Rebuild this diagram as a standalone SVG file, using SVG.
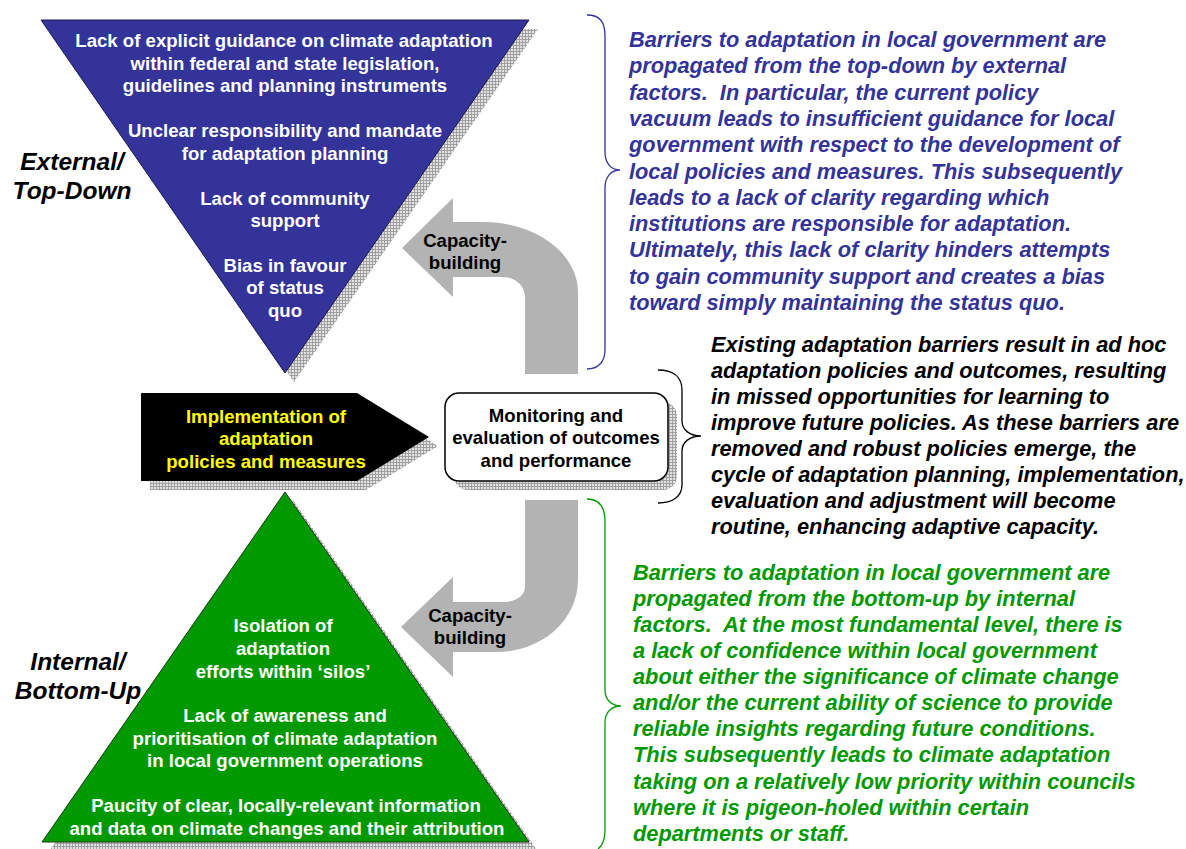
<svg xmlns="http://www.w3.org/2000/svg" width="1186" height="849" viewBox="0 0 1186 849">
<defs>
<pattern id="hatch" width="3" height="3" patternUnits="userSpaceOnUse"><rect width="3" height="3" fill="#e2e2e2"/><path d="M0,0.5H3M0.5,0V3" stroke="#9a9a9a" stroke-width="0.9"/></pattern>
<style>
.dt{font-family:"Liberation Sans",Arial,sans-serif;font-weight:bold;font-size:18.6px;text-anchor:middle}
.wt{fill:#fff}
.side{font-family:"Liberation Sans",Arial,sans-serif;font-weight:bold;font-style:italic;font-size:24.5px;text-anchor:middle;fill:#000}
.para{font-family:"Liberation Sans",Arial,sans-serif;font-weight:bold;font-style:italic;font-size:21.8px;white-space:pre}
.shadow{fill:url(#hatch)}
.arrow{fill:#b3b3b3}
.brace{fill:none;stroke-width:1.3}
</style>
</defs>
<rect width="1186" height="849" fill="#fff"/>

<g id="connectors">
<path class="arrow" d="M578,374 L578,292 A95,70 0 0 0 483,222 L453,222 L453,198 L402,248 L453,297 L453,277 L503,277 A22,20 0 0 1 525,297 L525,374 Z"/>
<path class="arrow" d="M525,500 L578,500 L578,580 A81,72 0 0 1 497,652 L453,652 L453,677 L401,627 L453,577 L453,602 L505,602 A20,15 0 0 0 525,587 Z"/>
<text class="dt" x="465" y="247" fill="#000">Capacity-</text>
<text class="dt" x="465" y="269" fill="#000">building</text>
<text class="dt" x="470" y="622" fill="#000">Capacity-</text>
<text class="dt" x="470" y="644" fill="#000">building</text>
<path class="brace" stroke="#333399" d="M587,15 C600,15 605,22 605,36 L605,152 C605,163 611,170 620,170 C611,170 605,177 605,188 L605,350 C605,362 598,369 587,369"/>
<path class="brace" stroke="#000" d="M658,370 C672,370 682,376 682,390 L682,421 C682,430 690,436 701,436 C690,436 682,442 682,451 L682,485 C682,497 672,503 658,503"/>
<path class="brace" stroke="#009900" d="M587,499 C600,499 605,508 605,522 L605,690 C605,700 612,706 621,706 C612,706 605,712 605,722 L605,830 C605,840 602,846 598,849"/>
</g>

<g id="external-triangle">
<polygon class="shadow" points="50,29 538,29 294,382"/>
<polygon points="41,20 529,20 285,373" fill="#333399" stroke="#1a1a4d" stroke-width="1"/>
<text class="dt wt" x="284" y="47">Lack of explicit guidance on climate adaptation</text>
<text class="dt wt" x="285" y="69.5">within federal and state legislation,</text>
<text class="dt wt" x="285" y="92">guidelines and planning instruments</text>
<text class="dt wt" x="285" y="137">Unclear responsibility and mandate</text>
<text class="dt wt" x="285" y="160">for adaptation planning</text>
<text class="dt wt" x="285" y="205">Lack of community</text>
<text class="dt wt" x="285" y="227">support</text>
<text class="dt wt" x="285" y="272">Bias in favour</text>
<text class="dt wt" x="285" y="294">of status</text>
<text class="dt wt" x="285" y="317">quo</text>
</g>

<g id="label-external">
<text class="side" x="72" y="170">External/</text>
<text class="side" x="72" y="199">Top-Down</text>
</g>

<g id="implementation">
<polygon class="shadow" points="150,402 366,402 438,446 366,490 150,490"/>
<polygon points="141,393 357,393 429,437 357,481 141,481" fill="#000"/>
<text class="dt" x="266" y="423" fill="#ffff00">Implementation of</text>
<text class="dt" x="266" y="445" fill="#ffff00">adaptation</text>
<text class="dt" x="266" y="468" fill="#ffff00">policies and measures</text>
</g>

<g id="monitoring">
<rect class="shadow" x="454" y="402" width="223" height="88" rx="14"/>
<rect x="445" y="393" width="223" height="88" rx="14" fill="#fff" stroke="#000" stroke-width="1.5"/>
<text class="dt" x="556" y="422" fill="#000">Monitoring and</text>
<text class="dt" x="556" y="444" fill="#000">evaluation of outcomes</text>
<text class="dt" x="556" y="467" fill="#000">and performance</text>
</g>

<g id="internal-triangle">
<polygon class="shadow" points="293,500 50,850 537,850"/>
<polygon points="285,492 42,842 529,842" fill="#009900" stroke="#1a3a1a" stroke-width="1"/>
<text class="dt wt" x="283" y="632">Isolation of</text>
<text class="dt wt" x="283" y="655">adaptation</text>
<text class="dt wt" x="283" y="677.5">efforts within ‘silos’</text>
<text class="dt wt" x="285" y="722">Lack of awareness and</text>
<text class="dt wt" x="285" y="745">prioritisation of climate adaptation</text>
<text class="dt wt" x="285" y="767">in local government operations</text>
<text class="dt wt" x="286" y="812">Paucity of clear, locally-relevant information</text>
<text class="dt wt" x="287" y="834.5">and data on climate changes and their attribution</text>
</g>

<g id="label-internal">
<text class="side" x="78" y="670">Internal/</text>
<text class="side" x="78" y="699">Bottom-Up</text>
</g>

<g id="text-external" class="para" fill="#333399">
<text x="629" y="47">Barriers to adaptation in local government are</text>
<text x="629" y="73.3">propagated from the top-down by external</text>
<text x="629" y="99.6" xml:space="preserve">factors.  In particular, the current policy</text>
<text x="629" y="125.9">vacuum leads to insufficient guidance for local</text>
<text x="629" y="152.2">government with respect to the development of</text>
<text x="629" y="178.5">local policies and measures. This subsequently</text>
<text x="629" y="204.8">leads to a lack of clarity regarding which</text>
<text x="629" y="231.1">institutions are responsible for adaptation.</text>
<text x="629" y="257.4">Ultimately, this lack of clarity hinders attempts</text>
<text x="629" y="283.7">to gain community support and creates a bias</text>
<text x="629" y="310">toward simply maintaining the status quo.</text>
</g>

<g id="text-cycle" class="para" fill="#000">
<text x="711" y="352">Existing adaptation barriers result in ad hoc</text>
<text x="711" y="378">adaptation policies and outcomes, resulting</text>
<text x="711" y="404">in missed opportunities for learning to</text>
<text x="711" y="430">improve future policies. As these barriers are</text>
<text x="711" y="456">removed and robust policies emerge, the</text>
<text x="711" y="482">cycle of adaptation planning, implementation,</text>
<text x="711" y="508">evaluation and adjustment will become</text>
<text x="711" y="534">routine, enhancing adaptive capacity.</text>
</g>

<g id="text-internal" class="para" fill="#009900">
<text x="633" y="580">Barriers to adaptation in local government are</text>
<text x="633" y="606">propagated from the bottom-up by internal</text>
<text x="633" y="632" xml:space="preserve">factors.  At the most fundamental level, there is</text>
<text x="633" y="658">a lack of confidence within local government</text>
<text x="633" y="684">about either the significance of climate change</text>
<text x="633" y="710">and/or the current ability of science to provide</text>
<text x="633" y="736">reliable insights regarding future conditions.</text>
<text x="633" y="762">This subsequently leads to climate adaptation</text>
<text x="633" y="789">taking on a relatively low priority within councils</text>
<text x="633" y="815">where it is pigeon-holed within certain</text>
<text x="633" y="841">departments or staff.</text>
</g>
</svg>
